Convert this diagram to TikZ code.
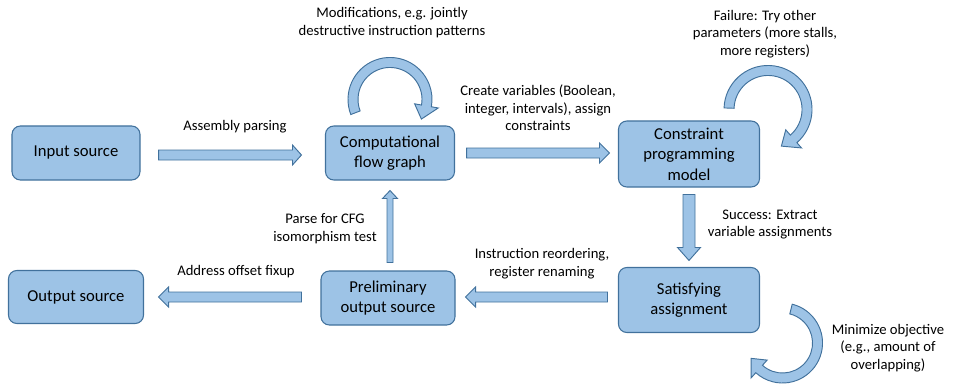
\documentclass[tikz,border=0pt]{standalone}
\usepackage{fontspec}
\setmainfont{Carlito}
\usetikzlibrary{calc,positioning}
\definecolor{boxfill}{HTML}{9DC3E6}
\definecolor{boxline}{HTML}{41719C}

% straight block arrow: from, to, dir x, dir y, half shaft, half head, head length
\newcommand{\blockarrow}[7]{%
  \draw[blockarrow] ($(#1)+(-#5*#4,#5*#3)$) -- ($(#2)+(-#7*#3-#5*#4,-#7*#4+#5*#3)$)
    -- ($(#2)+(-#7*#3-#6*#4,-#7*#4+#6*#3)$) -- (#2)
    -- ($(#2)+(-#7*#3+#6*#4,-#7*#4-#6*#3)$) -- ($(#2)+(-#7*#3+#5*#4,-#7*#4-#5*#3)$)
    -- ($(#1)+(#5*#4,-#5*#3)$) -- cycle;}
% curved block arrow: centre, radius, start angle, head angle, tip angle
\newcommand{\looparrow}[5]{%
  \draw[blockarrow] ($(#1)+(#3:#2+5)$) arc[start angle=#3, end angle=#4, radius=#2+5]
    -- ($(#1)+(#4:#2+12)$) -- ($(#1)+(#5:#2)$) -- ($(#1)+(#4:#2-12)$)
    -- ($(#1)+(#4:#2-5)$) arc[start angle=#4, end angle=#3, radius=#2-5] -- cycle;}

\begin{document}
\begin{tikzpicture}
[x=0.03cm,y=0.03cm,
box/.style={draw=boxline,fill=boxfill,line width=0.9pt,rounded corners=0.25cm,align=center,inner sep=2pt,font=\fontsize{14.2}{17.5}\selectfont},
blockarrow/.style={draw=boxline,fill=boxfill,line width=0.8pt,line join=miter},
lab/.style={align=center,inner sep=1pt,font=\fontsize{12.5}{15}\selectfont},]
\useasboundingbox (0,0) rectangle (957,385);

%Boxes
\node (in) at (76,232)[box,minimum width=3.84cm,minimum height=1.62cm] {Input source};
\node (cfg) at (390,232)[box,minimum width=3.87cm,minimum height=1.62cm] {Computational\\flow graph};
\node (cpm) at (689,231)[box,minimum width=4.23cm,minimum height=1.98cm] {Constraint\\programming\\model};
\node (sat) at (689,85)[box,minimum width=4.23cm,minimum height=1.95cm] {Satisfying\\assignment};
\node (pre) at (388,87)[box,minimum width=4.02cm,minimum height=1.62cm] {Preliminary\\output source};
\node (out) at (76,88)[box,minimum width=4.05cm,minimum height=1.59cm] {Output source};

%Arrow ends
\coordinate (a1) at ($(in.east)+(18,-2)$);
\coordinate (b1) at ($(cfg.west)+(-23.5,-2)$);
\coordinate (a2) at ($(cfg.east)+(11.5,0)$);
\coordinate (b2) at ($(cpm.west)+(-8.5,1)$);
\coordinate (a3) at ($(cpm.south)+(0,-7)$);
\coordinate (b3) at ($(sat.north)+(0,6.5)$);
\coordinate (a4) at ($(sat.west)+(-10.5,3)$);
\coordinate (b4) at ($(pre.east)+(10,1)$);
\coordinate (a5) at ($(pre.north)+(2,8)$);
\coordinate (b5) at ($(cfg.south)+(0,-10)$);
\coordinate (a6) at ($(pre.west)+(-19,1)$);
\coordinate (b6) at ($(out.east)+(14.5,0)$);

%Drawing the arrows
\blockarrow{a1}{b1}{1}{0}{5}{10}{9}
\blockarrow{a2}{b2}{1}{0}{5}{10}{10}
\blockarrow{a3}{b3}{0}{-1}{6}{11.5}{13}
\blockarrow{a4}{b4}{-1}{0}{5}{10}{10}
\blockarrow{a5}{b5}{0}{1}{3}{7.5}{8}
\blockarrow{a6}{b6}{-1}{0}{5}{10}{10}

%Loops
\coordinate (c1) at ($(cfg.north)+(0,26)$);
\coordinate (c2) at ($(cpm.north east)+(8,11)$);
\coordinate (c3) at ($(sat.east)+(22.5,-43)$);
\looparrow{c1}{37}{201}{-10}{-32}
\looparrow{c2}{39}{178}{-49}{-70}
\looparrow{c3}{35}{76}{-132}{-154}

%Labels
\node (l1) at (235,258)[lab] {Assembly parsing};
\node (l2) at (392,362.5)[lab] {Modifications, e.g. jointly\\destructive instruction patterns};
\node (l3) at (538,277)[lab] {Create variables (Boolean,\\integer, intervals), assign\\constraints};
\node (l4) at (765,351)[lab] {Failure: Try other\\parameters (more stalls,\\more registers)};
\node (l5) at (770,160.5)[lab] {Success: Extract\\variable assignments};
\node (l6) at (325,156.5)[lab] {Parse for CFG\\isomorphism test};
\node (l7) at (542,121.5)[lab] {Instruction reordering,\\register renaming};
\node (l8) at (236,113)[lab] {Address offset fixup};
\node (l9) at (888,37)[lab] {Minimize objective\\(e.g., amount of\\overlapping)};
\end{tikzpicture}
\end{document}
